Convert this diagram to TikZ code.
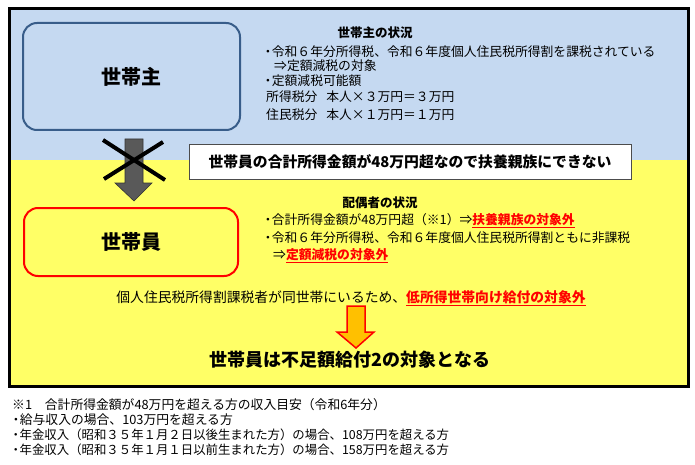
\documentclass[tikz,border=0pt]{standalone}
\usepackage{fontspec}
\setmainfont{Noto Sans CJK JP}
\definecolor{skyfill}{RGB}{197,217,241}
\definecolor{lemon}{RGB}{255,255,102}
\definecolor{boxblue}{RGB}{56,93,138}
\definecolor{alert}{RGB}{255,0,0}
\definecolor{amber}{RGB}{255,192,0}
\definecolor{arrowgray}{RGB}{89,89,89}
\newcommand{\redmark}[1]{\textcolor{alert}{\bfseries\underline{#1}}}
\newcommand{\dotitem}{\makebox[0.6em][c]{・}}
\begin{document}
\begin{tikzpicture}[x=1pt,y=-1pt,
    txt/.style={inner sep=0pt,anchor=west,font=\fontsize{12.8}{14}\selectfont},
    hd/.style={inner sep=0pt,font=\fontsize{12.5}{14}\selectfont\bfseries},
    roundbox/.style={line width=2pt,rounded corners=14pt,
      font=\fontsize{20}{24}\selectfont\bfseries}]
  \useasboundingbox (0,0) rectangle (695,465);
  % background bands and frame
  \fill[skyfill] (9,9) rectangle (688,160);
  \fill[lemon] (9,160) rectangle (688,386);
  \draw[line width=3pt] (9,9) rectangle (688,386);
  % boxes
  \node[roundbox,draw=boxblue,fill=skyfill,minimum width=217pt,
    minimum height=107pt] (zhu) at (131.5,76.5) {世帯主};
  \node[roundbox,draw=alert,fill=lemon,minimum width=214pt,
    minimum height=68pt] (yuan) at (131,242) {世帯員};
  % gray arrow, crossed out
  \draw[fill=arrowgray,draw=black!80,line width=0.6pt] (125,139) -- (143,139)
    -- (143,183) -- (152,183) -- (134,201) -- (115,183) -- (125,183) -- cycle;
  \draw[line width=4pt] (103,140) -- (165,180); \draw[line width=4pt]
    (104,179) -- (163,142);
  \node[draw=black!70,fill=white,line width=0.8pt,minimum width=442pt,
    minimum height=35pt,font=\fontsize{14.8}{18}\selectfont\bfseries]
    (note) at (410,161.5) {世帯員の合計所得金額が48万円超なので扶養親族にできない};
  % householder status
  \node[hd] (h1) at (375,33) {世帯主の状況};
  \node[txt] (h2) at (264,52) {\dotitem 令和６年分所得税、令和６年度個人住民税所得割を課税されている};
  \node[txt] (h3) at (274,66) {⇒定額減税の対象};
  \node[txt] (h4) at (264,81) {\dotitem 定額減税可能額};
  \node[txt] (h5) at (266,97) {所得税分\hspace{0.7em}本人×３万円＝３万円};
  \node[txt] (h6) at (266,115) {住民税分\hspace{0.7em}本人×１万円＝１万円};
  % member status
  \node[hd] (s1) at (380,203) {配偶者の状況};
  \node[txt] (s2) at (264,221) {\dotitem 合計所得金額が48万円超（※1）⇒\redmark{扶養親族の対象外}};
  \node[txt] (s3) at (264,238) {\dotitem 令和６年分所得税、令和６年度個人住民税所得割ともに非課税};
  \node[txt] (s4) at (273,256) {⇒\redmark{定額減税の対象外}};
  \node[txt,anchor=center,font=\fontsize{13.8}{16}\selectfont] (s5) at (351,298)
    {個人住民税所得割課税者が同世帯にいるため、\redmark{低所得世帯向け給付の対象外}};
  % orange arrow
  \draw[fill=amber,draw=alert,line width=1.5pt] (347,306) -- (365,306) -- (365,332)
    -- (374,332) -- (356,348) -- (337,332) -- (347,332) -- cycle;
  \node[inner sep=0pt,font=\fontsize{18}{22}\selectfont\bfseries] (res) at (350,360)
    {世帯員は不足額給付2の対象となる};
  % footnote
  \node[txt] (f1) at (12,405) {※1\hspace{1em}合計所得金額が48万円を超える方の収入目安（令和6年分）};
  \node[txt] (f2) at (12,420) {\dotitem 給与収入の場合、103万円を超える方};
  \node[txt,font=\fontsize{12.4}{14}\selectfont] (f3) at (12,435) {\dotitem 年金収入（昭和３５年１月２日以後生まれた方）の場合、108万円を超える方};
  \node[txt,font=\fontsize{12.4}{14}\selectfont] (f4) at (12,450) {\dotitem 年金収入（昭和３５年１月１日以前生まれた方）の場合、158万円を超える方};
\end{tikzpicture}
\end{document}
